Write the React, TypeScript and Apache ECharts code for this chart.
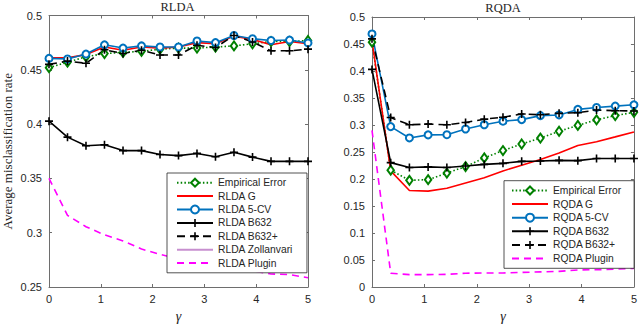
import React, { useEffect, useRef } from "react";
import * as echarts from "echarts";

// gamma sample points (x axis)
const gamma = [0, 0.357, 0.714, 1.071, 1.429, 1.786, 2.143, 2.5, 2.857, 3.214, 3.571, 3.929, 4.286, 4.643, 5];

// RLDA panel
const rldaEmpirical = [0.452, 0.457, 0.462, 0.465, 0.466, 0.467, 0.469, 0.470, 0.470, 0.471, 0.472, 0.474, 0.476, 0.476, 0.477];
const rldaG = [0.461, 0.461, 0.464, 0.471, 0.468, 0.471, 0.470, 0.471, 0.475, 0.474, 0.481, 0.478, 0.473, 0.476, 0.474];
const rldaCV = [0.4605, 0.460, 0.4645, 0.473, 0.470, 0.472, 0.471, 0.471, 0.4765, 0.475, 0.4816, 0.4786, 0.477, 0.4774, 0.4747];
const rldaB632 = [0.4027, 0.388, 0.380, 0.381, 0.3756, 0.3756, 0.372, 0.371, 0.373, 0.370, 0.374, 0.3696, 0.3657, 0.3657, 0.3657];
const rldaB632p = [0.455, 0.458, 0.456, 0.4684, 0.465, 0.468, 0.4636, 0.4636, 0.4726, 0.4705, 0.4816, 0.4756, 0.4675, 0.4675, 0.469];
const rldaZollanvari: number[] = [];
const rldaPlugin = [0.350, 0.316, 0.3055, 0.298, 0.2924, 0.285, 0.280, 0.276, 0.2736, 0.2706, 0.268, 0.265, 0.262, 0.2615, 0.2585];

// RQDA panel
const rqdaEmpirical = [0.4534, 0.2164, 0.1976, 0.1988, 0.211, 0.223, 0.239, 0.2527, 0.2648, 0.2757, 0.2884, 0.2993, 0.3096, 0.3174, 0.3235];
const rqdaG = [0.456, 0.215, 0.1788, 0.1776, 0.183, 0.1927, 0.2024, 0.215, 0.2255, 0.236, 0.248, 0.262, 0.269, 0.278, 0.2872];
const rqdaCV = [0.4686, 0.297, 0.276, 0.2817, 0.282, 0.2926, 0.3005, 0.307, 0.310, 0.3174, 0.3186, 0.3289, 0.3325, 0.335, 0.3374];
const rqdaB632 = [0.403, 0.2303, 0.2212, 0.2224, 0.2212, 0.224, 0.227, 0.229, 0.2327, 0.2333, 0.2345, 0.234, 0.238, 0.238, 0.238];
const rqdaB632p = [0.4595, 0.3138, 0.3005, 0.3017, 0.3005, 0.3047, 0.3108, 0.3144, 0.3204, 0.319, 0.3216, 0.3228, 0.3277, 0.3265, 0.3259];
const rqdaPlugin = [0.29, 0.0255, 0.023, 0.023, 0.0235, 0.0255, 0.026, 0.026, 0.027, 0.028, 0.029, 0.0315, 0.032, 0.033, 0.0345];

const rldaNames = ["Empirical Error", "RLDA G", "RLDA 5-CV", "RLDA B632", "RLDA B632+", "RLDA Zollanvari", "RLDA Plugin"];
const rqdaNames = ["Empirical Error", "RQDA G", "RQDA 5-CV", "RQDA B632", "RQDA B632+", "RQDA Plugin"];
const noMarkerNames = ["RLDA G", "RLDA Zollanvari", "RLDA Plugin", "RQDA G", "RQDA Plugin"];

const PLUS = "path://M4,0H6V4H10V6H6V10H4V6H0V4H4Z";
const AXIS_COLOR = "#6e6e6e";
const TEXT_COLOR = "#262626";
const SANS = "Liberation Sans";
const SERIF = "Liberation Serif";

const pairs = (vals: number[]) => vals.map((v, i) => [gamma[i], v]);

type Style = { color: string; type: any; symbol: string; symbolSize: any };
const styles: Record<string, Style> = {
  emp: { color: "#008000", type: [1.5, 2.2], symbol: "emptyDiamond", symbolSize: [6.5, 9] },
  g: { color: "#ff0000", type: "solid", symbol: "none", symbolSize: 0 },
  cv: { color: "#0072BD", type: "solid", symbol: "emptyCircle", symbolSize: 7 },
  b632: { color: "#000000", type: "solid", symbol: PLUS, symbolSize: 8 },
  b632p: { color: "#000000", type: [8, 5], symbol: PLUS, symbolSize: 8 },
  zoll: { color: "#C78FCF", type: "solid", symbol: "none", symbolSize: 0 },
  plugin: { color: "#ff00ff", type: [7, 5], symbol: "none", symbolSize: 0 },
};

function mkSeries(name: string, vals: number[], st: Style, axisIdx: number) {
  const isEmpty = st.symbol.startsWith("empty");
  const none = st.symbol === "none";
  return {
    type: "line",
    name,
    data: pairs(vals),
    xAxisIndex: axisIdx,
    yAxisIndex: axisIdx,
    symbol: st.symbol,
    symbolSize: st.symbolSize,
    showSymbol: !none,
    lineStyle: { color: st.color, width: 1.6, type: st.type },
    itemStyle: isEmpty
      ? { color: st.color, borderColor: st.color, borderWidth: 1.6 }
      : none
      ? { color: st.color, opacity: 0 }
      : { color: st.color, borderWidth: 0 },
    emphasis: { disabled: true },
    clip: true,
  };
}

function legendData(names: string[]) {
  return names.map((n) =>
    noMarkerNames.includes(n) ? { name: n, itemStyle: { opacity: 0 } } : { name: n }
  );
}

function mkAxis(kind: "x" | "y", grid: number, pos: string, min: number, max: number, interval: number, showLabel: boolean, extra: any = {}) {
  return {
    type: "value",
    gridIndex: grid,
    position: pos,
    min,
    max,
    interval,
    axisLine: { show: true, onZero: false, lineStyle: { color: AXIS_COLOR, width: 1 } },
    axisTick: { show: true, inside: true, length: 3, lineStyle: { color: AXIS_COLOR, width: 1 } },
    splitLine: { show: false },
    axisLabel: { show: showLabel, color: TEXT_COLOR, fontFamily: SANS, fontSize: 11, margin: kind === "x" ? 6 : 7 },
    ...extra,
  };
}

export default function App() {
  const ref = useRef<HTMLDivElement>(null);
  useEffect(() => {
    if (!ref.current) return;
    const chart = echarts.init(ref.current, undefined, { renderer: "svg" });
    const gammaName = {
      name: "γ",
      nameLocation: "middle",
      nameGap: 22,
      nameTextStyle: { fontFamily: SERIF, fontStyle: "italic", fontSize: 14, color: TEXT_COLOR },
    };
    const legendCommon = {
      orient: "vertical",
      itemWidth: 36,
      itemHeight: 10,
      itemGap: 0,
      backgroundColor: "#ffffff",
      borderColor: "#262626",
      borderWidth: 0.8,
      borderRadius: 0,
      selectedMode: false,
    };
    const option: any = {
      animation: false,
      backgroundColor: "#ffffff",
      grid: [
        { left: 47, right: 332, top: 15.5, bottom: 35 },
        { left: 372, right: 6, top: 17, bottom: 35 },
      ],
      xAxis: [
        mkAxis("x", 0, "bottom", 0, 5, 1, true, gammaName),
        mkAxis("x", 0, "top", 0, 5, 1, false),
        mkAxis("x", 1, "bottom", 0, 5, 1, true, gammaName),
        mkAxis("x", 1, "top", 0, 5, 1, false),
      ],
      yAxis: [
        mkAxis("y", 0, "left", 0.25, 0.5, 0.05, true, {
          name: "Average misclassification rate",
          nameLocation: "middle",
          nameGap: 35,
          nameTextStyle: { fontFamily: SERIF, fontSize: 13, color: TEXT_COLOR },
        }),
        mkAxis("y", 0, "right", 0.25, 0.5, 0.05, false),
        mkAxis("y", 1, "left", 0, 0.5, 0.05, true),
        mkAxis("y", 1, "right", 0, 0.5, 0.05, false),
      ],
      legend: [
        {
          ...legendCommon,
          data: legendData(rldaNames),
          left: 167,
          top: 173,
          padding: [3, 14, 3, 9],
          textStyle: { fontFamily: SANS, fontSize: 10.3, color: TEXT_COLOR, lineHeight: 13.4 },
        },
        {
          ...legendCommon,
          data: legendData(rqdaNames),
          left: 504,
          top: 180.7,
          padding: [3, 13, 3, 7],
          textStyle: { fontFamily: SANS, fontSize: 10.3, color: TEXT_COLOR, lineHeight: 13.6 },
        },
      ],
      graphic: [
        {
          type: "text",
          x: 177.5,
          y: 7,
          style: { text: "RLDA", align: "center", verticalAlign: "middle", fontFamily: SERIF, fontSize: 12.5, fill: TEXT_COLOR },
        },
        {
          type: "text",
          x: 503,
          y: 7.5,
          style: { text: "RQDA", align: "center", verticalAlign: "middle", fontFamily: SERIF, fontSize: 12.5, fill: TEXT_COLOR },
        },
      ],
      series: [
        mkSeries("Empirical Error", rldaEmpirical, styles.emp, 0),
        mkSeries("RLDA G", rldaG, styles.g, 0),
        mkSeries("RLDA 5-CV", rldaCV, styles.cv, 0),
        mkSeries("RLDA B632", rldaB632, styles.b632, 0),
        mkSeries("RLDA B632+", rldaB632p, styles.b632p, 0),
        mkSeries("RLDA Zollanvari", rldaZollanvari, styles.zoll, 0),
        mkSeries("RLDA Plugin", rldaPlugin, styles.plugin, 0),
        mkSeries("Empirical Error", rqdaEmpirical, styles.emp, 2),
        mkSeries("RQDA G", rqdaG, styles.g, 2),
        mkSeries("RQDA 5-CV", rqdaCV, styles.cv, 2),
        mkSeries("RQDA B632", rqdaB632, styles.b632, 2),
        mkSeries("RQDA B632+", rqdaB632p, styles.b632p, 2),
        mkSeries("RQDA Plugin", rqdaPlugin, styles.plugin, 2),
      ],
    };
    chart.setOption(option);
    return () => chart.dispose();
  }, []);
  return (
    <div
      ref={ref}
      style={{ position: "absolute", left: 0, top: 0, width: 640, height: 328, background: "#fff" }}
    />
  );
}
